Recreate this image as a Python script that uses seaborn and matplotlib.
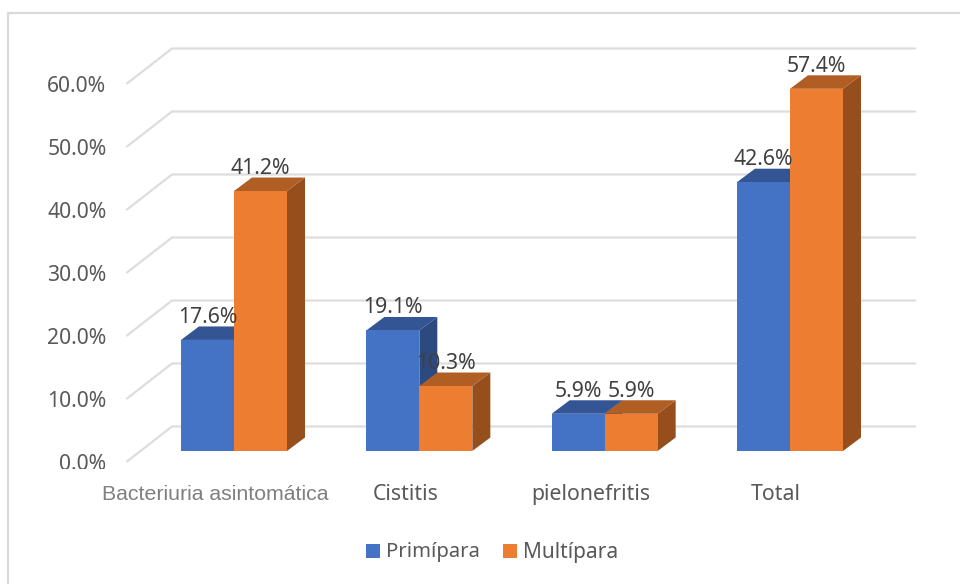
import numpy as np
import pandas as pd
import matplotlib
matplotlib.use("Agg")
import matplotlib.pyplot as plt
from matplotlib.patches import Polygon, Rectangle
from matplotlib.transforms import Bbox, IdentityTransform
import seaborn as sns

categories = ["Bacteriuria asintomática", "Cistitis", "pielonefritis", "Total"]
primipara = [17.6, 19.1, 5.9, 42.6]
multipara = [41.2, 10.3, 5.9, 57.4]
series_names = ["Primípara", "Multípara"]
y_ticks = [0, 10, 20, 30, 40, 50, 60]

W, H = 960, 584
DEPTH_X, DEPTH_Y = 18, 13.5
FRONT = {"Primípara": "#4472C4", "Multípara": "#ED7D31"}
TOP = {"Primípara": "#335593", "Multípara": "#B15E24"}
SIDE = {"Primípara": "#2C4A80", "Multípara": "#964F1C"}
GRID = "#DDDDDD"
TEXT = "#595959"

sns.set_theme(style="white", rc={"font.family": ["Noto Sans", "DejaVu Sans"]})
fig = plt.figure(figsize=(W / 100, H / 100), dpi=100, facecolor="white")


def px(x, y):
    """Convert top-left pixel coordinates into display coordinates."""
    return x, H - y


# Front plane of the bars: category spacing 185.33 px, 6.31 px per percentage point.
left = 234 - 185.33 / 2
right = left + 185.33 * 4
bottom, top = 451, 451 - 6.31 * 60
ax = fig.add_axes([left / W, 1 - bottom / H, (right - left) / W, (bottom - top) / H])
ax.patch.set_alpha(0)

# Chart frame: only the top and left edges fall inside the figure
fig.add_artist(plt.Line2D(*zip(px(7.5, H + 2), px(7.5, 13), px(W + 2, 13)),
                          transform=IdentityTransform(), color="#D9D9D9", lw=1.6,
                          solid_joinstyle="miter", zorder=0))

df = pd.DataFrame({
    "categoria": categories * 2,
    "serie": [series_names[0]] * 4 + [series_names[1]] * 4,
    "valor": primipara + multipara,
})
sns.barplot(data=df, x="categoria", y="valor", hue="serie", order=categories,
            hue_order=series_names, palette=FRONT, width=0.572, gap=0,
            saturation=1, ax=ax, legend=False, zorder=6, linewidth=0, edgecolor="none")
ax.set_xlim(-0.5, 3.5)
ax.set_ylim(0, 60)
ax.set_xlabel("")
ax.set_ylabel("")
ax.set_xticks([])
ax.set_yticks([])
sns.despine(ax=ax, left=True, bottom=True)

# Back wall gridlines and the slanted floor/side strokes
for v in y_ticks:
    yb = 426.5 - 6.3 * v
    ax.add_artist(plt.Line2D(*zip(px(127, yb + 35), px(172, yb), px(915, yb)),
                             transform=IdentityTransform(), color=GRID, lw=1.6,
                             solid_joinstyle="miter", zorder=1, clip_on=False))
    t = fig.text(*px(106.5, 464.5 - 6.3 * v), f"{v:.1f}%", transform=IdentityTransform(),
                 ha="right", va="center", fontsize=15.2, color=TEXT)
    t.set_clip_box(Bbox([px(0, 469), px(W, 0)]))
    t.set_clip_on(True)

# Depth faces built from each bar's own screen rectangle
for name, bars in zip(series_names, ax.containers):
    for bar in bars:
        (x0, y0), (x1, y1) = ax.transData.transform(
            [(bar.get_x(), 0), (bar.get_x() + bar.get_width(), bar.get_height())])
        side = [(x1, y0), (x1 + DEPTH_X, y0 + DEPTH_Y), (x1 + DEPTH_X, y1 + DEPTH_Y), (x1, y1)]
        roof = [(x0, y1), (x0 + DEPTH_X, y1 + DEPTH_Y), (x1 + DEPTH_X, y1 + DEPTH_Y), (x1, y1)]
        z = 3 if name == series_names[0] else 4
        ax.add_artist(Polygon(side, closed=True, transform=IdentityTransform(),
                              facecolor=SIDE[name], edgecolor="none", zorder=z, clip_on=False))
        ax.add_artist(Polygon(roof, closed=True, transform=IdentityTransform(),
                              facecolor=TOP[name], edgecolor="none", zorder=z, clip_on=False))
        bar.set_clip_on(False)
        ax.annotate(f"{bar.get_height():.1f}%",
                    (bar.get_x() + bar.get_width() / 2, bar.get_height()),
                    xytext=(0, 22.5 * 0.72), textcoords="offset points",
                    ha="center", va="center", fontsize=15.3, color="#404040",
                    annotation_clip=False, zorder=8)

# Category labels sit left of their bar groups
label_x = [215.5, 406, 591, 776]
for c, x in zip(categories, label_x):
    first = c == categories[0]
    fig.text(*px(x, 494.5), c, transform=IdentityTransform(), ha="center", va="center",
             fontsize=15.3, color="#7F7F7F" if first else TEXT,
             family=["Liberation Sans"] if first else ["Noto Sans"])

# Legend
for name, sx, tx, fs in zip(series_names, (366, 503), (386, 523), (14.6, 15)):
    fig.add_artist(Rectangle(px(sx, 558), 14, 14, transform=IdentityTransform(),
                             facecolor=FRONT[name], edgecolor="none"))
    fig.text(*px(tx, 552.5), name, transform=IdentityTransform(), ha="left", va="center",
             fontsize=fs, color=TEXT)

fig.savefig("out.png", dpi=100, facecolor="white")
